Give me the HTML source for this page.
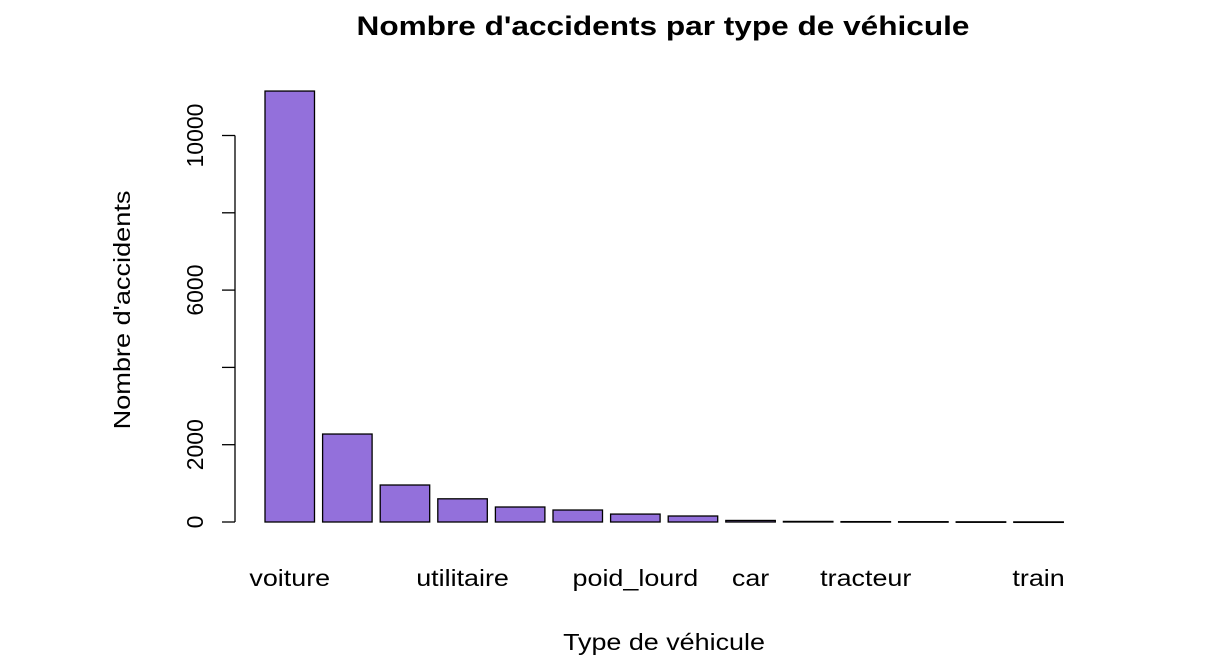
<!DOCTYPE html>
<html><head><meta charset="utf-8"><style>
body{margin:0;background:#fff;}
svg{display:block;font-family:"Liberation Sans",sans-serif;}
</style></head><body>
<svg id="chart" width="1226" height="670">
<text transform="translate(663,35) scale(1.17,1)" text-anchor="middle" font-size="27" font-weight="bold">Nombre d'accidents par type de véhicule</text>
<text transform="translate(664,650) scale(1.17,1)" text-anchor="middle" font-size="23">Type de véhicule</text>
<text transform="translate(130,310) rotate(-90) scale(1.18,1)" text-anchor="middle" font-size="23">Nombre d'accidents</text>
<g id="yaxis"></g>
<g id="bars"></g>
<g id="xlabels"></g>
</svg>
<script>
const categories = ["voiture","moto","velo","utilitaire","cyclomoteur","scooter","poid_lourd","quad","car","autobus","tracteur","tramway","engin","train"];
const showLabel = [true,false,false,true,false,false,true,false,true,false,true,false,false,true];
const values = [11150,2276,957,600,388,310,205,155,40,15,10,8,5,3];
const yTicks = [0,2000,4000,6000,8000,10000];
const yTickLabels = ["0","2000","","6000","","10000"];

const NS="http://www.w3.org/2000/svg";
const y0=522, k=77.3/2000;
function yScale(v){return y0-v*k;}
function xLeft(i){return 265+i*57.6;}
const bw=49.5;
function mk(tag,attrs,parent){const e=document.createElementNS(NS,tag);for(const a in attrs)e.setAttribute(a,attrs[a]);parent.appendChild(e);return e;}
const ya=document.getElementById('yaxis');
const axLine=mk('line',{x1:235,x2:235,y1:yScale(yTicks[0]),y2:yScale(yTicks[yTicks.length-1]),stroke:'#000','stroke-width':1.3},ya);


yTicks.forEach((t,i)=>{
  const y=yScale(t);
  const tk=mk('line',{x1:222,x2:235,y1:y,y2:y,stroke:'#000','stroke-width':1.3},ya);
  
  
  if(yTickLabels[i]){
    const tx=mk('text',{transform:`translate(203,${y}) rotate(-90)`,'text-anchor':'middle','font-size':23},ya);
    tx.textContent=yTickLabels[i];
    
    
  }
});
const bg=document.getElementById('bars');
values.forEach((v,i)=>{
  const yt=yScale(v);
  const r=mk('rect',{x:xLeft(i),y:yt,width:bw,height:Math.max(y0-yt,0.5),fill:'#9370DB',stroke:'#000','stroke-width':1.3},bg);
  
  
});
const xl=document.getElementById('xlabels');
categories.forEach((c,i)=>{
  if(!showLabel[i])return;
  const t=mk('text',{transform:`translate(${xLeft(i)+bw/2},586) scale(1.17,1)`,'text-anchor':'middle','font-size':23},xl);
  t.textContent=c;
  
  
});
</script>
</body></html>
